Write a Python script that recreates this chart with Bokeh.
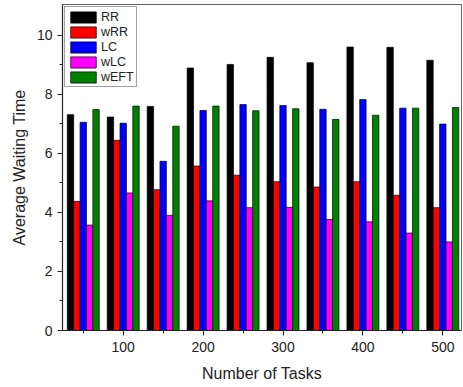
from bokeh.plotting import figure
from bokeh.models import ColumnDataSource, FixedTicker, Range1d
from bokeh.transform import dodge
from bokeh.embed import file_html
from bokeh.resources import INLINE

tasks = [50, 100, 150, 200, 250, 300, 350, 400, 450, 500]
rr   = [7.31, 7.23, 7.59, 8.89, 9.01, 9.25, 9.07, 9.60, 9.59, 9.15]
wrr  = [4.37, 6.44, 4.77, 5.57, 5.26, 5.04, 4.86, 5.04, 4.58, 4.16]
lc   = [7.05, 7.02, 5.73, 7.45, 7.65, 7.62, 7.49, 7.82, 7.53, 6.99]
wlc  = [3.57, 4.66, 3.90, 4.39, 4.16, 4.17, 3.76, 3.68, 3.30, 3.00]
weft = [7.48, 7.60, 6.92, 7.60, 7.44, 7.51, 7.15, 7.29, 7.53, 7.55]

series = [("RR", "rr", rr, "#000000"),
          ("wRR", "wrr", wrr, "#FF0000"),
          ("LC", "lc", lc, "#0000FF"),
          ("wLC", "wlc", wlc, "#FF00FF"),
          ("wEFT", "weft", weft, "#008000")]

data = {"tasks": tasks}
for name, key, vals, col in series:
    data[key] = vals
src = ColumnDataSource(data)

FONT = "Liberation Sans"

p = figure(width=463, height=387, output_backend="svg", toolbar_location=None,
           x_range=Range1d(24.0, 523.4), y_range=Range1d(0, 11.04),
           min_border_left=62, min_border_right=2, min_border_top=4,
           min_border_bottom=57)

bw = 8
offsets = [-16, -8, 0, 8, 16]
for (name, key, vals, col), off in zip(series, offsets):
    p.vbar(x=dodge("tasks", off, range=p.x_range), top=key, width=bw,
           source=src, fill_color=col, line_color="#000000", line_width=0.7,
           legend_label=name)

p.xgrid.visible = False
p.ygrid.visible = False
p.outline_line_color = "#666666"
p.outline_line_width = 1

p.xaxis.ticker = FixedTicker(ticks=[100, 200, 300, 400, 500],
                             minor_ticks=[50, 150, 250, 350, 450])
p.yaxis.ticker = FixedTicker(ticks=[0, 2, 4, 6, 8, 10],
                             minor_ticks=[1, 3, 5, 7, 9])

for ax in (p.xaxis[0], p.yaxis[0]):
    ax.axis_line_color = "#222222"
    ax.axis_line_width = 1.2
    ax.major_tick_line_color = "#222222"
    ax.minor_tick_line_color = "#222222"
    ax.major_tick_out = 5
    ax.major_tick_in = 0
    ax.minor_tick_out = 3
    ax.minor_tick_in = 0
    ax.major_label_text_font = FONT
    ax.major_label_text_font_size = "14px"
    ax.major_label_text_color = "#222222"
    ax.axis_label_text_font = FONT
    ax.axis_label_text_font_size = "16px"
    ax.axis_label_text_font_style = "normal"
    ax.axis_label_text_color = "#222222"

p.xaxis.axis_label = "Number of Tasks"
p.yaxis.axis_label = "Average Waiting Time"
p.xaxis.major_label_standoff = 6
p.xaxis.axis_label_standoff = 10
p.yaxis.major_label_standoff = 5
p.yaxis.axis_label_standoff = 6

lg = p.legend[0]
lg.location = "top_left"
lg.margin = 2
lg.padding = 2
lg.spacing = 0
lg.glyph_width = 32
lg.glyph_height = 14
lg.label_height = 15
lg.label_standoff = 2
lg.label_text_font = FONT
lg.label_text_font_size = "12.5px"
lg.label_text_color = "#222222"
lg.border_line_color = "#444444"
lg.border_line_width = 1
lg.background_fill_alpha = 1

open("out.html", "w").write(file_html(p, INLINE))
